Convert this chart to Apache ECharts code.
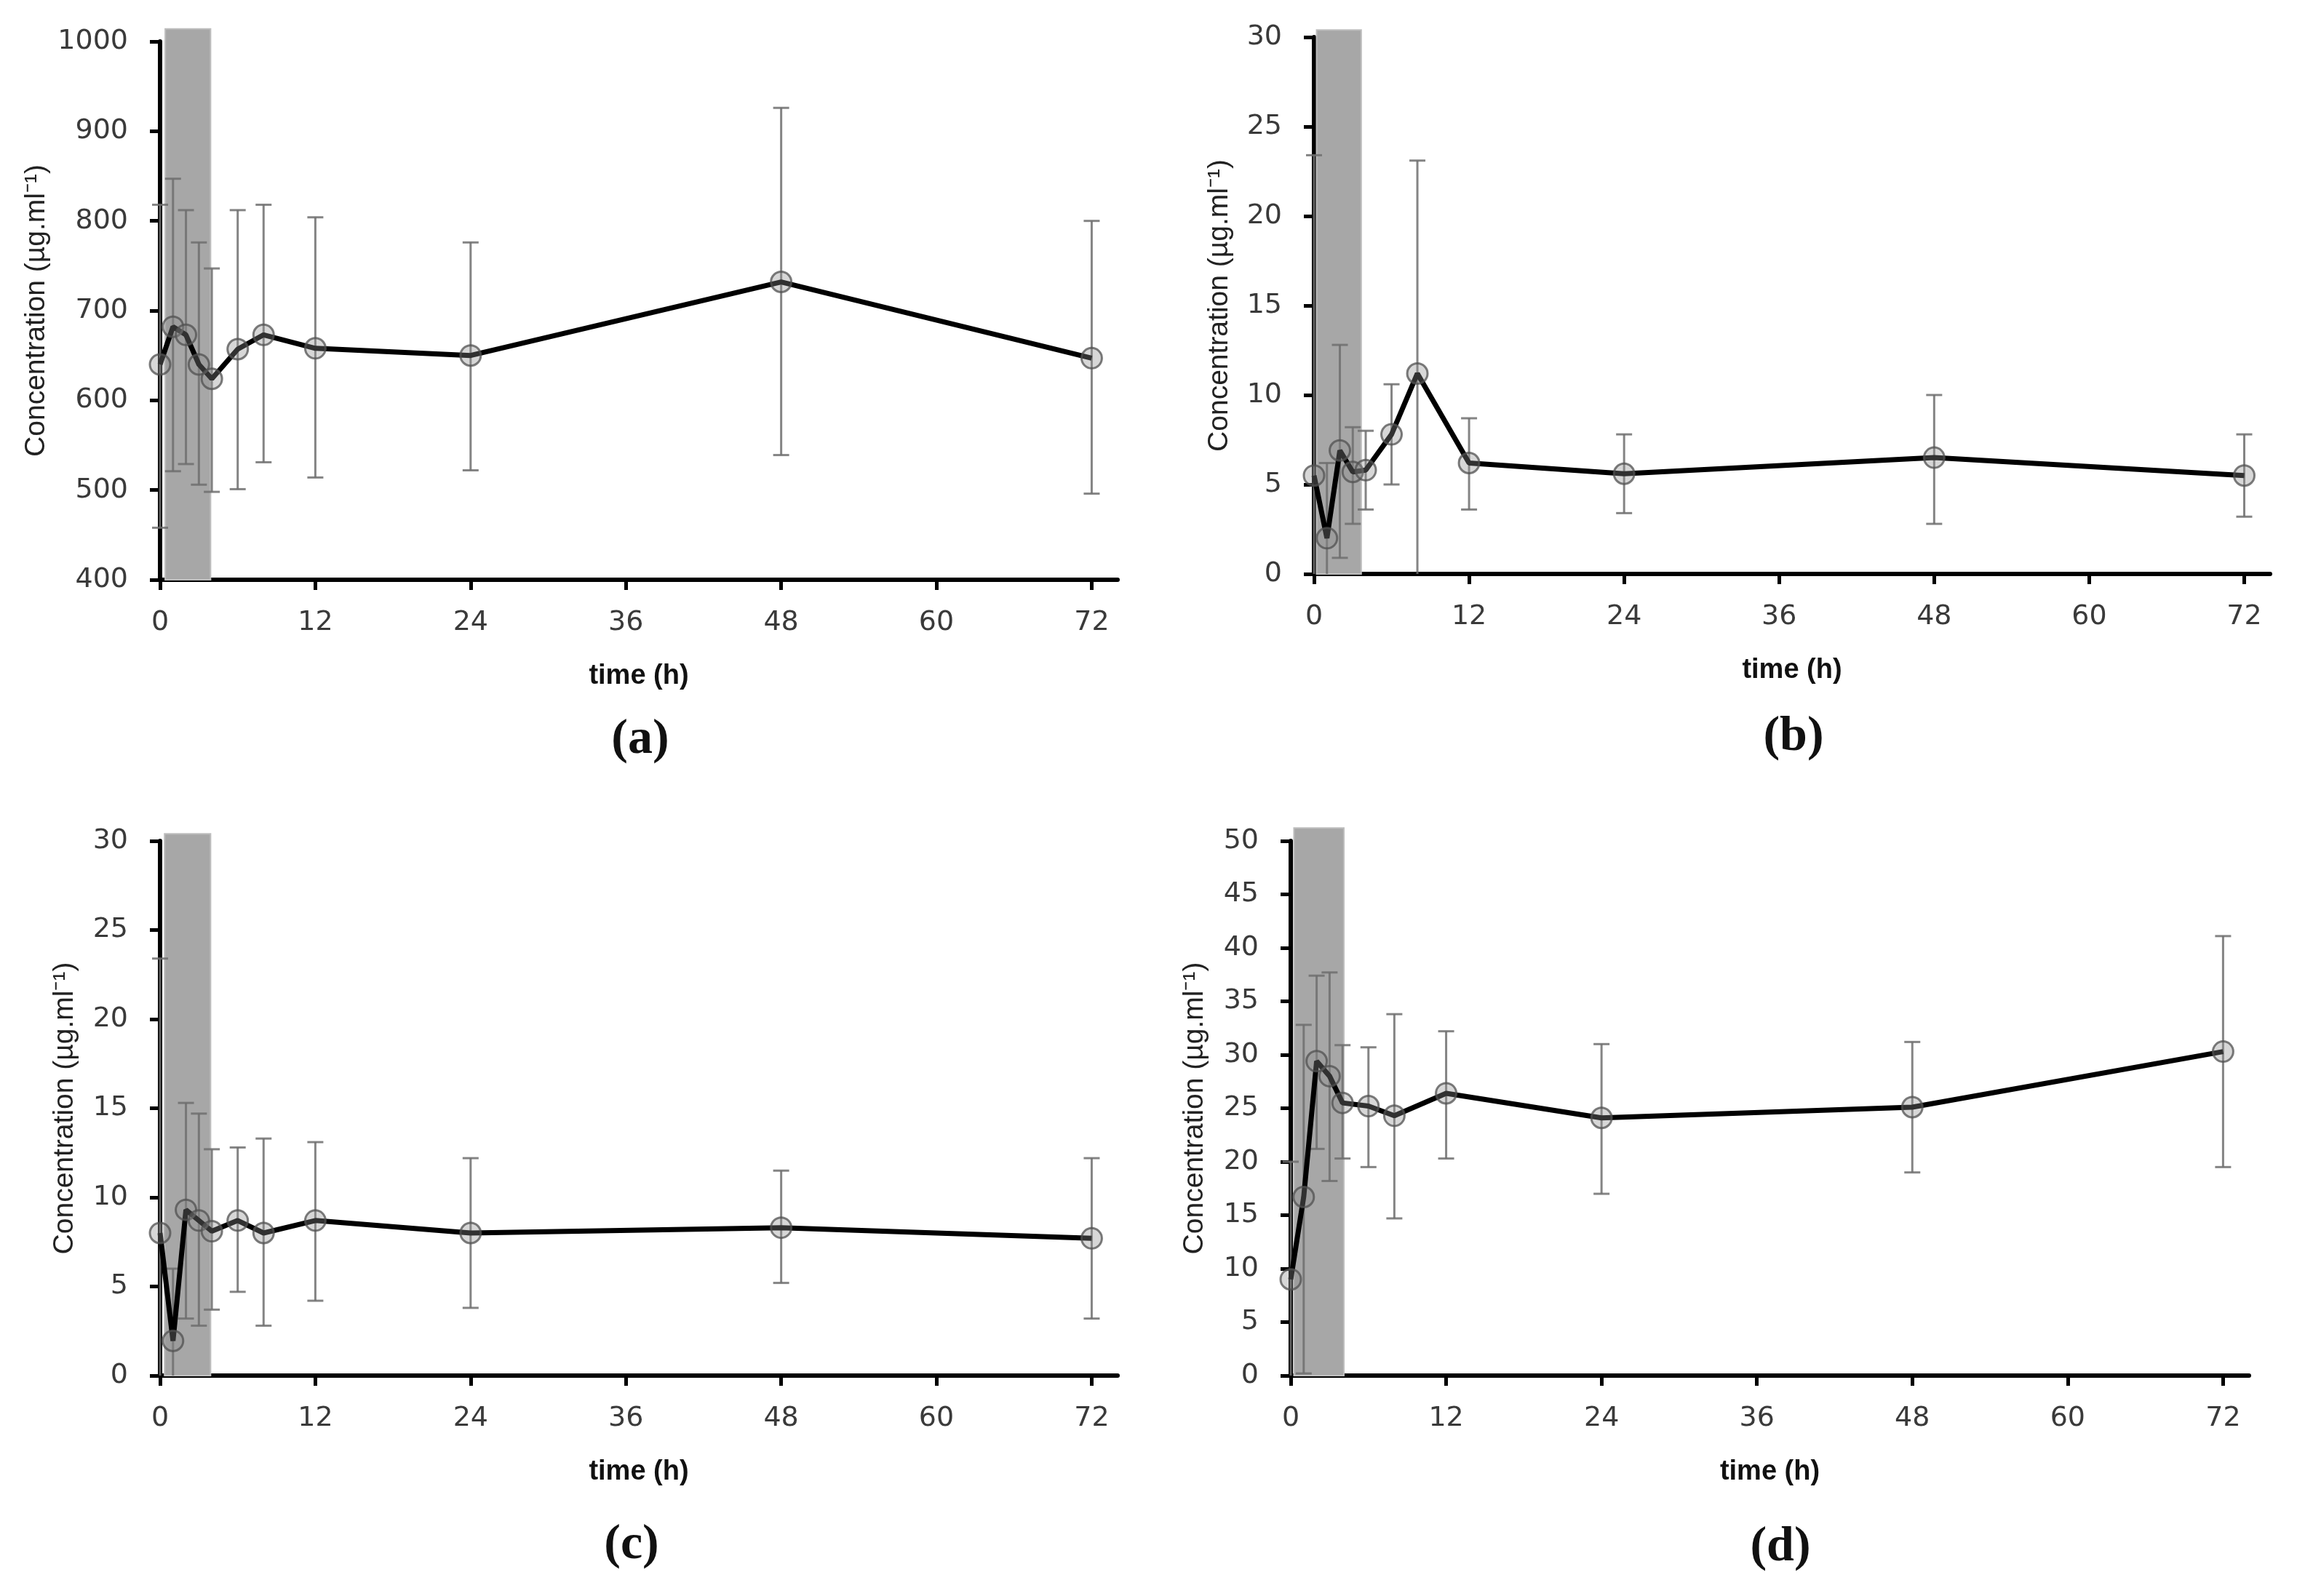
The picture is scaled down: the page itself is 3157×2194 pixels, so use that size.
<!DOCTYPE html>
<html style="height: 100%">
    <head>
        <meta charset="utf-8">
    </head>
    <body style="height: 100%; margin: 0; background: #fff;">
        <div id="container" style="width: 3157px; height: 2194px;"></div>
        <script src="https://cdn.jsdelivr.net/npm/echarts@6/dist/echarts.min.js"></script>
        <script>
        // sampling times (h)
        var times = [0, 1, 2, 3, 4, 6, 8, 12, 24, 48, 72];
        var timeTicks = [0, 12, 24, 36, 48, 60, 72];

        // panel (a)
        var meanA  = [640, 682, 673, 640, 624, 657, 673, 658, 650, 732, 647];
        var upperA = [818, 847, 812, 776, 747, 812, 818, 804, 776, 926, 800];
        var lowerA = [458, 521, 529, 506, 498, 501, 531, 514, 522, 539, 496];

        // panel (b)
        var meanB  = [5.5, 2.0, 6.9, 5.7, 5.8, 7.8, 11.2, 6.2, 5.6, 6.5, 5.5];
        var upperB = [23.4, 6.2, 12.8, 8.2, 8.0, 10.6, 23.1, 8.7, 7.8, 10.0, 7.8];
        var lowerB = [0, 0, 0.9, 2.8, 3.6, 5.0, 0, 3.6, 3.4, 2.8, 3.2];

        // panel (c)
        var meanC  = [8.0, 1.95, 9.3, 8.7, 8.1, 8.7, 8.0, 8.7, 8.0, 8.3, 7.7];
        var upperC = [23.4, 6.0, 15.3, 14.7, 12.7, 12.8, 13.3, 13.1, 12.2, 11.5, 12.2];
        var lowerC = [0, 0, 3.2, 2.8, 3.7, 4.7, 2.8, 4.2, 3.8, 5.2, 3.2];

        // panel (d)
        var meanD  = [9.0, 16.7, 29.4, 28.0, 25.5, 25.2, 24.3, 26.4, 24.1, 25.1, 30.3];
        var upperD = [20.0, 32.8, 37.4, 37.7, 30.9, 30.7, 33.8, 32.2, 31.0, 31.2, 41.1];
        var lowerD = [0, 0.2, 21.2, 18.2, 20.3, 19.5, 14.7, 20.3, 17.0, 19.0, 19.5];

        // y ranges per panel
        var yMin = [400, 0, 0, 0];
        var yMax = [1000, 30, 30, 50];
        var yStep = [100, 5, 5, 5];

        // grey infusion band (start h, end h, top value)
        var shadeStart = [0.4, 0.2, 0.35, 0.25];
        var shadeEnd = [3.9, 3.65, 3.9, 4.1];
        var shadeTop = [1014, 30.4, 30.4, 51.2];

        var panelNames = ['(a)', '(b)', '(c)', '(d)'];
        var means = [meanA, meanB, meanC, meanD];
        var uppers = [upperA, upperB, upperC, upperD];
        var lowers = [lowerA, lowerB, lowerC, lowerD];

        var grids = [
            { left: 220, top: 57, width: 1316, height: 740 },
            { left: 1806, top: 51, width: 1314, height: 738 },
            { left: 220, top: 1156, width: 1316, height: 735 },
            { left: 1774, top: 1156, width: 1317, height: 735 }
        ];
        var yNameGap = [150, 110, 111, 112];
        var labelPos = [[880, 1017], [2465, 1013], [868, 2124], [2447, 2127]];

        var chart = echarts.init(document.getElementById('container'));

        function renderError(params, api) {
            var x = api.value(0);
            var lo = api.value(1);
            var hi = api.value(2);
            var bottom = api.value(3);
            var pHi = api.coord([x, hi]);
            var pLo = api.coord([x, lo]);
            var cap = 11;
            var st = { stroke: 'rgba(110,110,110,0.85)', lineWidth: 3 };
            var kids = [
                { type: 'line', shape: { x1: pHi[0], y1: pHi[1], x2: pLo[0], y2: pLo[1] }, style: st },
                { type: 'line', shape: { x1: pHi[0] - cap, y1: pHi[1], x2: pHi[0] + cap, y2: pHi[1] }, style: st }
            ];
            if (lo > bottom) {
                kids.push({ type: 'line', shape: { x1: pLo[0] - cap, y1: pLo[1], x2: pLo[0] + cap, y2: pLo[1] }, style: st });
            }
            return { type: 'group', children: kids };
        }

        function renderShade(params, api) {
            var p0 = api.coord([api.value(0), api.value(2)]);
            var p1 = api.coord([api.value(1), api.value(3)]);
            return {
                type: 'rect',
                shape: { x: p0[0], y: p0[1], width: p1[0] - p0[0], height: p1[1] - p0[1] },
                style: { fill: '#a7a7a7', stroke: '#bdbdbd', lineWidth: 2 }
            };
        }

        var option = {
            animation: false,
            backgroundColor: '#fff',
            grid: grids,
            xAxis: [],
            yAxis: [],
            series: [],
            graphic: []
        };

        for (var i = 0; i < 4; i++) {
            option.xAxis.push({
                type: 'value',
                gridIndex: i,
                min: 0,
                max: 74,
                interval: 12,
                name: 'time (h)',
                nameLocation: 'middle',
                nameGap: 114,
                nameTextStyle: { fontFamily: 'Liberation Sans', fontWeight: 'bold', fontSize: 38, color: '#111' },
                axisLine: { lineStyle: { color: '#000', width: 6 } },
                axisTick: { show: true, length: 14, lineStyle: { color: '#000', width: 5 }, customValues: timeTicks },
                axisLabel: { fontFamily: 'DejaVu Sans', fontSize: 38, color: '#3a3a3a', margin: 40, customValues: timeTicks },
                splitLine: { show: false }
            });
            option.yAxis.push({
                type: 'value',
                gridIndex: i,
                min: yMin[i],
                max: yMax[i],
                interval: yStep[i],
                name: 'Concentration (µg.ml⁻¹)',
                nameLocation: 'middle',
                nameGap: yNameGap[i],
                nameTextStyle: { fontFamily: 'Liberation Sans', fontSize: 39, color: '#222' },
                axisLine: { lineStyle: { color: '#000', width: 6 } },
                axisTick: { show: true, length: 14, lineStyle: { color: '#000', width: 5 } },
                axisLabel: {
                    fontFamily: 'DejaVu Sans', fontSize: 38, color: '#3a3a3a', margin: 44,
                    formatter: function (v) { return String(v); }
                },
                splitLine: { show: false }
            });

            option.series.push({
                type: 'custom',
                xAxisIndex: i,
                yAxisIndex: i,
                z: 1,
                silent: true,
                renderItem: renderShade,
                data: [[shadeStart[i], shadeEnd[i], shadeTop[i], yMin[i]]]
            });

            var errData = times.map(function (t, k) {
                return [t, lowers[i][k], uppers[i][k], yMin[i]];
            });
            option.series.push({
                type: 'custom',
                xAxisIndex: i,
                yAxisIndex: i,
                z: 2,
                silent: true,
                renderItem: renderError,
                encode: { x: 0, y: [1, 2] },
                data: errData
            });

            option.series.push({
                type: 'line',
                xAxisIndex: i,
                yAxisIndex: i,
                z: 3,
                data: times.map(function (t, k) { return [t, means[i][k]]; }),
                symbol: 'circle',
                symbolSize: 28,
                showAllSymbol: true,
                clip: false,
                lineStyle: { color: '#000', width: 7 },
                itemStyle: { color: 'rgba(140,140,140,0.35)', borderColor: 'rgba(80,80,80,0.75)', borderWidth: 3 }
            });

            option.graphic.push({
                type: 'text',
                x: labelPos[i][0],
                y: labelPos[i][1],
                style: {
                    text: panelNames[i],
                    fontFamily: 'Liberation Serif',
                    fontWeight: 'bold',
                    fontSize: 68,
                    fill: '#111',
                    align: 'center',
                    verticalAlign: 'middle'
                }
            });
        }

        chart.setOption(option);
        </script>
    </body>
</html>
